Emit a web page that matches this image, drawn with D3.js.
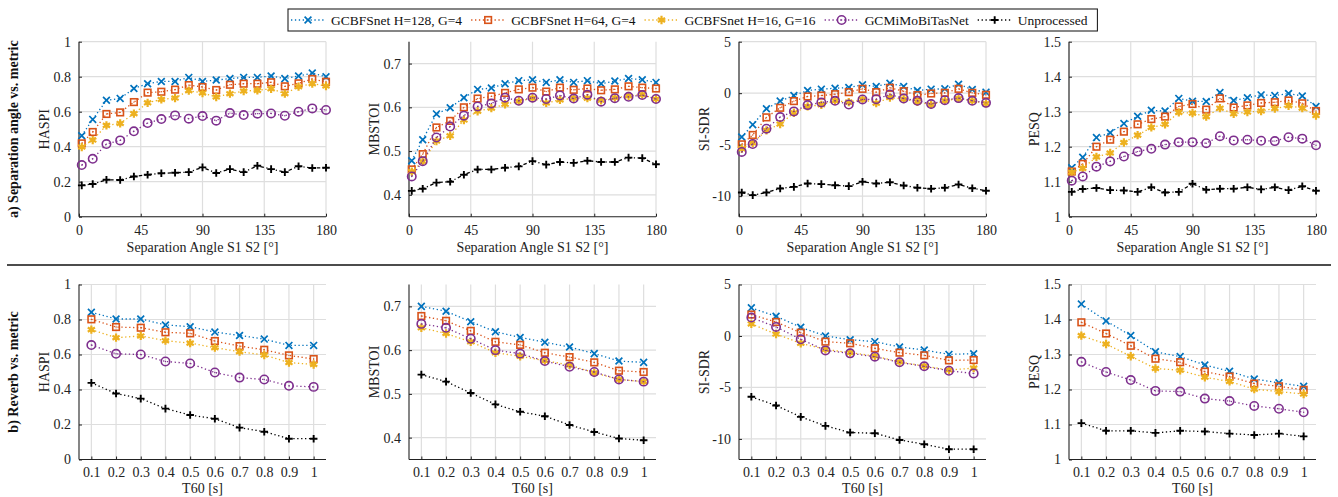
<!DOCTYPE html>
<html>
<head>
<meta charset="utf-8">
<script src="https://cdn.jsdelivr.net/npm/d3@7"></script>
<style>
  html, body { margin: 0; padding: 0; background: #fff; }
  svg { display: block; }
  svg text { font-family: "Liberation Serif", "Times New Roman", serif !important; }
</style>
</head>
<body>
<svg id="chart" width="1338" height="497"></svg>
<script>
// ---------------- DATA ----------------
const seriesNames = ["GCBFSnet H=128, G=4", "GCBFSnet H=64, G=4", "GCBFSnet H=16, G=16", "GCMiMoBiTasNet", "Unprocessed"];
const angles = [2, 10, 20, 30, 40, 50, 60, 70, 80, 90, 100, 110, 120, 130, 140, 150, 160, 170, 180];
const t60 = [0.1, 0.2, 0.3, 0.4, 0.5, 0.6, 0.7, 0.8, 0.9, 1.0];
const angleTicks = [0, 45, 90, 135, 180];
const t60Ticks = [0.1, 0.2, 0.3, 0.4, 0.5, 0.6, 0.7, 0.8, 0.9, 1];
const metricNames = ["HASPI", "MBSTOI", "SI-SDR", "PESQ"];
const haspiTicks = [0, 0.2, 0.4, 0.6, 0.8, 1];
const mbstoiTicks = [0.4, 0.5, 0.6, 0.7];
const sisdrTicks = [-10, -5, 0, 5];
const pesqTicks = [1, 1.1, 1.2, 1.3, 1.4, 1.5];

// Separation angle vs. metric (rows: series in seriesNames order)
const angleHaspi = [
  [0.463, 0.556, 0.665, 0.676, 0.733, 0.760, 0.773, 0.773, 0.796, 0.773, 0.781, 0.789, 0.796, 0.796, 0.804, 0.789, 0.804, 0.821, 0.800],
  [0.419, 0.484, 0.587, 0.596, 0.655, 0.709, 0.714, 0.726, 0.752, 0.741, 0.724, 0.754, 0.760, 0.760, 0.768, 0.745, 0.762, 0.787, 0.771],
  [0.398, 0.438, 0.522, 0.533, 0.589, 0.651, 0.670, 0.678, 0.720, 0.707, 0.684, 0.703, 0.718, 0.722, 0.731, 0.703, 0.743, 0.760, 0.747],
  [0.295, 0.331, 0.415, 0.436, 0.488, 0.535, 0.558, 0.579, 0.560, 0.575, 0.549, 0.592, 0.581, 0.589, 0.590, 0.577, 0.600, 0.619, 0.610],
  [0.179, 0.187, 0.211, 0.210, 0.230, 0.240, 0.248, 0.251, 0.255, 0.282, 0.250, 0.272, 0.255, 0.291, 0.272, 0.255, 0.288, 0.278, 0.280]
];
const angleMbstoi = [
  [0.478, 0.526, 0.585, 0.599, 0.622, 0.641, 0.644, 0.654, 0.661, 0.663, 0.657, 0.663, 0.657, 0.661, 0.654, 0.660, 0.666, 0.663, 0.657],
  [0.458, 0.493, 0.554, 0.569, 0.600, 0.620, 0.625, 0.633, 0.641, 0.645, 0.636, 0.645, 0.640, 0.643, 0.639, 0.641, 0.648, 0.645, 0.643],
  [0.453, 0.476, 0.523, 0.535, 0.571, 0.591, 0.598, 0.607, 0.614, 0.621, 0.610, 0.617, 0.621, 0.621, 0.616, 0.622, 0.626, 0.629, 0.619],
  [0.442, 0.477, 0.531, 0.556, 0.581, 0.602, 0.609, 0.622, 0.615, 0.622, 0.619, 0.627, 0.620, 0.629, 0.613, 0.621, 0.624, 0.628, 0.619],
  [0.409, 0.414, 0.428, 0.430, 0.446, 0.458, 0.458, 0.462, 0.465, 0.477, 0.469, 0.475, 0.473, 0.478, 0.475, 0.475, 0.485, 0.484, 0.470]
];
const angleSisdr = [
  [-4.26, -3.06, -1.52, -0.77, -0.23, 0.26, 0.39, 0.48, 0.55, 0.81, 0.65, 0.97, 0.65, 0.26, 0.39, 0.42, 0.87, 0.35, 0.10],
  [-4.97, -4.06, -2.35, -1.42, -0.77, -0.32, -0.23, -0.10, 0.10, 0.42, 0.10, 0.52, 0.19, -0.19, -0.03, 0.03, 0.42, 0.03, -0.16],
  [-5.39, -4.84, -3.61, -3.00, -1.90, -1.29, -1.13, -0.74, -0.87, -0.61, -0.97, -0.42, -0.58, -0.84, -1.13, -0.74, -0.52, -0.74, -1.00],
  [-5.71, -4.94, -3.45, -2.32, -1.77, -1.16, -0.90, -0.74, -1.10, -0.61, -0.58, -0.13, -0.52, -0.74, -1.06, -0.68, -0.48, -0.74, -0.94],
  [-9.65, -9.90, -9.65, -9.26, -9.10, -8.77, -8.84, -8.94, -9.03, -8.61, -8.77, -8.65, -8.97, -9.19, -9.29, -9.19, -8.87, -9.23, -9.48]
];
const anglePesq = [
  [1.140, 1.170, 1.226, 1.240, 1.266, 1.287, 1.304, 1.302, 1.338, 1.330, 1.329, 1.355, 1.332, 1.340, 1.348, 1.346, 1.352, 1.345, 1.315],
  [1.129, 1.151, 1.200, 1.220, 1.243, 1.264, 1.279, 1.286, 1.315, 1.322, 1.306, 1.338, 1.312, 1.318, 1.325, 1.327, 1.332, 1.324, 1.302],
  [1.127, 1.138, 1.171, 1.182, 1.212, 1.233, 1.255, 1.264, 1.298, 1.296, 1.286, 1.310, 1.294, 1.299, 1.302, 1.309, 1.317, 1.310, 1.289],
  [1.103, 1.115, 1.143, 1.158, 1.172, 1.186, 1.194, 1.206, 1.213, 1.213, 1.210, 1.230, 1.218, 1.220, 1.217, 1.216, 1.227, 1.223, 1.204],
  [1.071, 1.079, 1.082, 1.076, 1.075, 1.071, 1.084, 1.069, 1.071, 1.094, 1.077, 1.080, 1.080, 1.084, 1.078, 1.084, 1.076, 1.087, 1.074]
];

// Reverb (T60) vs. metric
const reverbHaspi = [
  [0.841, 0.803, 0.803, 0.769, 0.759, 0.728, 0.709, 0.688, 0.652, 0.652],
  [0.801, 0.757, 0.753, 0.727, 0.721, 0.677, 0.648, 0.627, 0.595, 0.574],
  [0.742, 0.696, 0.706, 0.679, 0.665, 0.639, 0.616, 0.597, 0.554, 0.543],
  [0.654, 0.604, 0.600, 0.560, 0.549, 0.497, 0.468, 0.457, 0.421, 0.415],
  [0.438, 0.377, 0.348, 0.291, 0.254, 0.233, 0.182, 0.159, 0.119, 0.119]
];
const reverbMbstoi = [
  [0.700, 0.689, 0.665, 0.642, 0.629, 0.618, 0.607, 0.592, 0.575, 0.572],
  [0.678, 0.667, 0.644, 0.619, 0.612, 0.594, 0.584, 0.572, 0.553, 0.550],
  [0.651, 0.638, 0.619, 0.594, 0.586, 0.576, 0.566, 0.548, 0.533, 0.528],
  [0.660, 0.651, 0.626, 0.600, 0.592, 0.575, 0.562, 0.550, 0.533, 0.528],
  [0.544, 0.528, 0.502, 0.476, 0.459, 0.449, 0.429, 0.413, 0.398, 0.394]
];
const reverbSisdr = [
  [2.73, 1.92, 0.84, 0.00, -0.36, -0.55, -1.07, -1.36, -1.79, -1.72],
  [2.08, 1.36, 0.32, -0.55, -0.71, -1.20, -1.62, -1.88, -2.37, -2.34],
  [1.17, 0.19, -0.71, -1.30, -1.62, -1.95, -2.53, -2.92, -3.31, -3.12],
  [1.79, 0.88, -0.32, -1.40, -1.69, -2.01, -2.56, -2.95, -3.38, -3.64],
  [-5.91, -6.75, -7.86, -8.73, -9.38, -9.45, -10.10, -10.52, -11.00, -11.00]
];
const reverbPesq = [
  [1.444, 1.396, 1.354, 1.308, 1.294, 1.270, 1.252, 1.230, 1.219, 1.209],
  [1.392, 1.360, 1.325, 1.288, 1.278, 1.251, 1.237, 1.217, 1.209, 1.199],
  [1.354, 1.330, 1.295, 1.260, 1.255, 1.235, 1.223, 1.201, 1.194, 1.187],
  [1.279, 1.250, 1.227, 1.196, 1.194, 1.174, 1.167, 1.153, 1.145, 1.135],
  [1.104, 1.082, 1.082, 1.076, 1.082, 1.080, 1.074, 1.070, 1.074, 1.066]
];

// ---------------- STYLE / LAYOUT ----------------
const colors = ["#0072BD", "#D95319", "#EDB120", "#7E2F8E", "#000000"];
const markers = ["x", "square", "star", "circle", "plus"];
const svg = d3.select("#chart");
const panelLefts = [79, 409, 739, 1069];
const panelW = 247;
const rowTops = [41.7, 284.5];
const panelH = 175;
const yDomains = [[0, 1], [0.35, 0.75], [-12, 5], [1, 1.5]];
const yTicks = [haspiTicks, mbstoiTicks, sisdrTicks, pesqTicks];
const angleData = [angleHaspi, angleMbstoi, angleSisdr, anglePesq];
const reverbData = [reverbHaspi, reverbMbstoi, reverbSisdr, reverbPesq];
const gridColor = "#dedede";
const serif = "'Liberation Serif', 'Times New Roman', serif";

function drawMarker(g, type, color, x, y) {
  const s = 3.4;
  if (type === "x") {
    g.append("path").attr("d", `M${x-s},${y-s}L${x+s},${y+s}M${x-s},${y+s}L${x+s},${y-s}`)
      .attr("stroke", color).attr("stroke-width", 1.7).attr("fill", "none");
  } else if (type === "square") {
    g.append("rect").attr("x", x - 3.3).attr("y", y - 3.3).attr("width", 6.6).attr("height", 6.6)
      .attr("stroke", color).attr("stroke-width", 1.6).attr("fill", "none");
    g.append("circle").attr("cx", x).attr("cy", y).attr("r", 0.7).attr("fill", color);
  } else if (type === "star") {
    g.append("path").attr("d", d3.symbol(d3.symbolAsterisk, 48)()).attr("transform", `translate(${x},${y})`)
      .attr("stroke", color).attr("stroke-width", 2.2).attr("fill", "none");
    g.append("circle").attr("cx", x).attr("cy", y).attr("r", 2.2).attr("fill", color);
  } else if (type === "circle") {
    g.append("circle").attr("cx", x).attr("cy", y).attr("r", 4.2)
      .attr("stroke", color).attr("stroke-width", 1.6).attr("fill", "none");
    g.append("circle").attr("cx", x).attr("cy", y).attr("r", 0.7).attr("fill", color);
  } else if (type === "plus") {
    g.append("path").attr("d", `M${x-3.8},${y}L${x+3.8},${y}M${x},${y-3.8}L${x},${y+3.8}`)
      .attr("stroke", color).attr("stroke-width", 1.9).attr("fill", "none");
  }
}

function fmt(v) { return String(+v.toFixed(2)); }

function drawPanel(row, col) {
  const left = panelLefts[col], top = rowTops[row];
  const xVals = row === 0 ? angles : t60;
  const xTicks = row === 0 ? angleTicks : t60Ticks;
  const x = d3.scaleLinear().domain(row === 0 ? [0, 180] : [0.05, 1.05]).range([left, left + panelW]);
  const y = d3.scaleLinear().domain(yDomains[col]).range([top + panelH, top]);
  const g = svg.append("g");

  const grid = g.append("g");
  xTicks.forEach(t => grid.append("line").attr("x1", x(t)).attr("x2", x(t)).attr("y1", top).attr("y2", top + panelH)
    .attr("stroke", gridColor).attr("stroke-width", 1.2));
  yTicks[col].forEach(t => grid.append("line").attr("x1", left).attr("x2", left + panelW).attr("y1", y(t)).attr("y2", y(t))
    .attr("stroke", gridColor).attr("stroke-width", 1.2));

  const xAxis = d3.axisBottom(x).tickValues(xTicks).tickSize(-3).tickPadding(8).tickFormat(fmt);
  const yAxis = d3.axisLeft(y).tickValues(yTicks[col]).tickSize(-3).tickPadding(8).tickFormat(fmt);
  const gx = g.append("g").attr("transform", `translate(0,${top + panelH})`).call(xAxis);
  const gy = g.append("g").attr("transform", `translate(${left},0)`).call(yAxis);
  [gx, gy].forEach(a => {
    a.attr("font-family", serif).attr("font-size", 14);
    a.selectAll("path.domain").attr("stroke", "#222").attr("stroke-width", 1.1);
    a.selectAll(".tick line").attr("stroke", "#222");
    a.selectAll("text").attr("font-family", serif).attr("font-size", 14).attr("fill", "#222");
  });
  gx.selectAll("path.domain").attr("d", `M${left},0H${left + panelW}`);
  gy.selectAll("path.domain").attr("d", `M0,${top + panelH}V${top}`);

  g.append("text").attr("x", left + panelW / 2).attr("y", top + panelH + (row === 0 ? 35 : 33))
    .attr("text-anchor", "middle").attr("font-family", serif).attr("font-size", 14).attr("fill", "#222")
    .text(row === 0 ? "Separation Angle S1 S2 [°]" : "T60 [s]");
  g.append("text").attr("transform", `translate(${left - 30},${top + panelH / 2}) rotate(-90)`)
    .attr("text-anchor", "middle").attr("font-family", serif).attr("font-size", 14).attr("fill", "#222").text(metricNames[col]);

  const data = row === 0 ? angleData[col] : reverbData[col];
  data.forEach((vals, si) => {
    const pts = vals.map((v, i) => [x(xVals[i]), y(v)]);
    let dash = "1.3,2.6";
    if (row === 0 && si === 4) dash = "3.5,2.5,1.2,2.5";
    g.append("path").attr("d", d3.line()(pts)).attr("fill", "none").attr("stroke", colors[si])
      .attr("stroke-width", 1.3).attr("stroke-dasharray", dash);
    const mg = g.append("g");
    pts.forEach(p => drawMarker(mg, markers[si], colors[si], p[0], p[1]));
  });
}

for (let r = 0; r < 2; r++) for (let c = 0; c < 4; c++) drawPanel(r, c);

svg.append("line").attr("x1", 7).attr("x2", 1331).attr("y1", 265).attr("y2", 265).attr("stroke", "#111").attr("stroke-width", 1.3);

const rowLabels = ["a) Separation angle vs. metric", "b) Reverb vs. metric"];
rowLabels.forEach((t, r) => {
  svg.append("text").attr("transform", `translate(18,${rowTops[r] + panelH / 2}) rotate(-90)`)
    .attr("text-anchor", "middle").attr("font-family", serif).attr("font-size", 14).attr("font-weight", "bold")
    .attr("fill", "#111").text(t);
});

const lg = svg.append("g");
const box = lg.append("rect").attr("x", 288).attr("y", 9).attr("height", 22).attr("fill", "#fff")
  .attr("stroke", "#222").attr("stroke-width", 1.1);
let cx = 291;
seriesNames.forEach((name, si) => {
  lg.append("line").attr("x1", cx).attr("x2", cx + 34).attr("y1", 20).attr("y2", 20)
    .attr("stroke", colors[si]).attr("stroke-width", 1.3).attr("stroke-dasharray", "1.3,2.6");
  drawMarker(lg, markers[si], colors[si], cx + 17, 20);
  const txt = lg.append("text").attr("x", cx + 40).attr("y", 24.5).attr("font-family", serif)
    .attr("font-size", 13.5).attr("fill", "#111").text(name);
  const w = txt.node().getComputedTextLength();
  cx = cx + 40 + w + 9;
});
box.attr("width", cx - 288 + 1);
</script>
</body>
</html>
